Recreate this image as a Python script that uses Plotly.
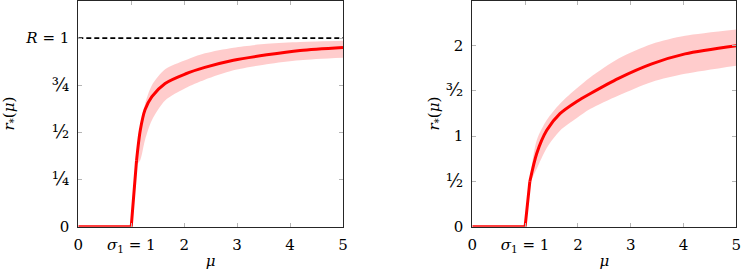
import plotly.graph_objects as go
from plotly.subplots import make_subplots

# ---- data ----
# left panel
mu_left = [0, 1.0, 1.10, 1.17, 1.26, 1.39, 1.64, 2.02, 2.39, 2.93, 3.56, 4.19, 5.0]
r_left = [0, 0, 0.35, 0.51, 0.62, 0.69, 0.76, 0.81, 0.845, 0.883, 0.912, 0.935, 0.951]
band_mu_left = [1.10, 1.17, 1.26, 1.39, 1.64, 2.02, 2.39, 2.93, 3.56, 4.19, 5.0]
band_up_left = [0.36, 0.52, 0.65, 0.75, 0.835, 0.883, 0.92, 0.95, 0.97, 0.98, 0.986]
band_lo_left = [0.33, 0.353, 0.46, 0.565, 0.67, 0.735, 0.78, 0.83, 0.862, 0.883, 0.896]
R_value = 1.0

# right panel
mu_right = [0, 1.0, 1.09, 1.22, 1.41, 1.66, 1.98, 2.23, 2.77, 3.40, 4.03, 5.0]
r_right = [0, 0, 0.50, 0.81, 1.066, 1.25, 1.385, 1.47, 1.64, 1.80, 1.91, 2.00]
band_mu_right = [1.09, 1.22, 1.41, 1.66, 1.98, 2.23, 2.77, 3.40, 4.03, 5.0]
band_up_right = [0.52, 0.956, 1.18, 1.36, 1.53, 1.65, 1.86, 2.02, 2.11, 2.18]
band_lo_right = [0.48, 0.64, 0.87, 1.06, 1.20, 1.30, 1.45, 1.60, 1.69, 1.78]

x_tickvals = [0, 1, 2, 3, 4, 5]
x_ticktext = ["0", "<i>σ</i><sub>1</sub> = 1", "2", "3", "4", "5"]

def big(s):
    return f"<span style='font-size:18px'>{s}</span>"

yl_tickvals = [0, 0.25, 0.5, 0.75, 1.0]
yl_ticktext = ["0", big("¼"), big("½"), big("¾"), "<i>R</i> = 1"]
yr_tickvals = [0, 0.5, 1.0, 1.5, 2.0]
yr_ticktext = ["0", big("½"), "1", big("³⁄₂"), "2"]

RED = "#ff0000"
BAND = "rgba(255,0,0,0.2)"
FONT = "DejaVu Serif"
FS = 15

fig = make_subplots(rows=1, cols=2)

def add_panel(col, mu, r, bmu, bup, blo):
    fig.add_trace(go.Scatter(x=bmu, y=blo, mode="lines", line=dict(width=0, shape="spline", smoothing=0.8),
                             showlegend=False, hoverinfo="skip"), row=1, col=col)
    fig.add_trace(go.Scatter(x=bmu, y=bup, mode="lines", line=dict(width=0, shape="spline", smoothing=0.8),
                             fill="tonexty", fillcolor=BAND, showlegend=False, hoverinfo="skip"), row=1, col=col)
    # flat part + jump (linear)
    fig.add_trace(go.Scatter(x=mu[:3], y=r[:3], mode="lines", line=dict(color=RED, width=3),
                             showlegend=False), row=1, col=col)
    # smooth rise
    fig.add_trace(go.Scatter(x=mu[2:], y=r[2:], mode="lines",
                             line=dict(color=RED, width=3, shape="spline", smoothing=0.8),
                             showlegend=False), row=1, col=col)

add_panel(1, mu_left, r_left, band_mu_left, band_up_left, band_lo_left)
fig.add_trace(go.Scatter(x=[x_tickvals[0], x_tickvals[-1]], y=[R_value, R_value], mode="lines",
                         line=dict(color="black", width=1.8, dash="5px,3px"), showlegend=False), row=1, col=1)
add_panel(2, mu_right, r_right, band_mu_right, band_up_right, band_lo_right)

axis_common = dict(showline=True, linecolor="#262626", linewidth=1, mirror="ticks",
                   ticks="inside", ticklen=4, tickcolor="#b5b5b5", tickwidth=1,
                   showgrid=False, zeroline=False, automargin=False,
                   tickfont=dict(family=FONT, size=FS, color="black"))

ydom = [48.3 / 275, 274.5 / 275]
fig.update_xaxes(**axis_common, range=[0, 5], tickvals=x_tickvals, ticktext=x_ticktext,
                 title=dict(text="<i>μ</i>", font=dict(family=FONT, size=FS, color="black"), standoff=1),
                 ticklabelstandoff=4)
fig.update_yaxes(**axis_common, ticklabelstandoff=5)
fig.update_xaxes(domain=[78.3 / 747, 343 / 747], row=1, col=1)
fig.update_xaxes(domain=[472.3 / 747, 736.3 / 747], row=1, col=2)
fig.update_yaxes(domain=ydom, range=[0, 1.2], tickvals=yl_tickvals, ticktext=yl_ticktext,
                 title=dict(text="<i>r</i><sub>*</sub>(<i>μ</i>)", font=dict(family=FONT, size=FS, color="black"), standoff=7),
                 row=1, col=1)
fig.update_yaxes(domain=ydom, range=[0, 2.5], tickvals=yr_tickvals, ticktext=yr_ticktext,
                 title=dict(text="<i>r</i><sub>*</sub>(<i>μ</i>)", font=dict(family=FONT, size=FS, color="black"), standoff=2),
                 row=1, col=2)

fig.update_layout(width=747, height=275, margin=dict(l=0, r=0, t=0, b=0),
                  paper_bgcolor="white", plot_bgcolor="white", showlegend=False,
                  font=dict(family=FONT, size=FS, color="black"))

fig.write_html("out.html", config={"displayModeBar": False},
               post_script="document.body.style.margin='0';document.body.style.overflow='hidden';")
